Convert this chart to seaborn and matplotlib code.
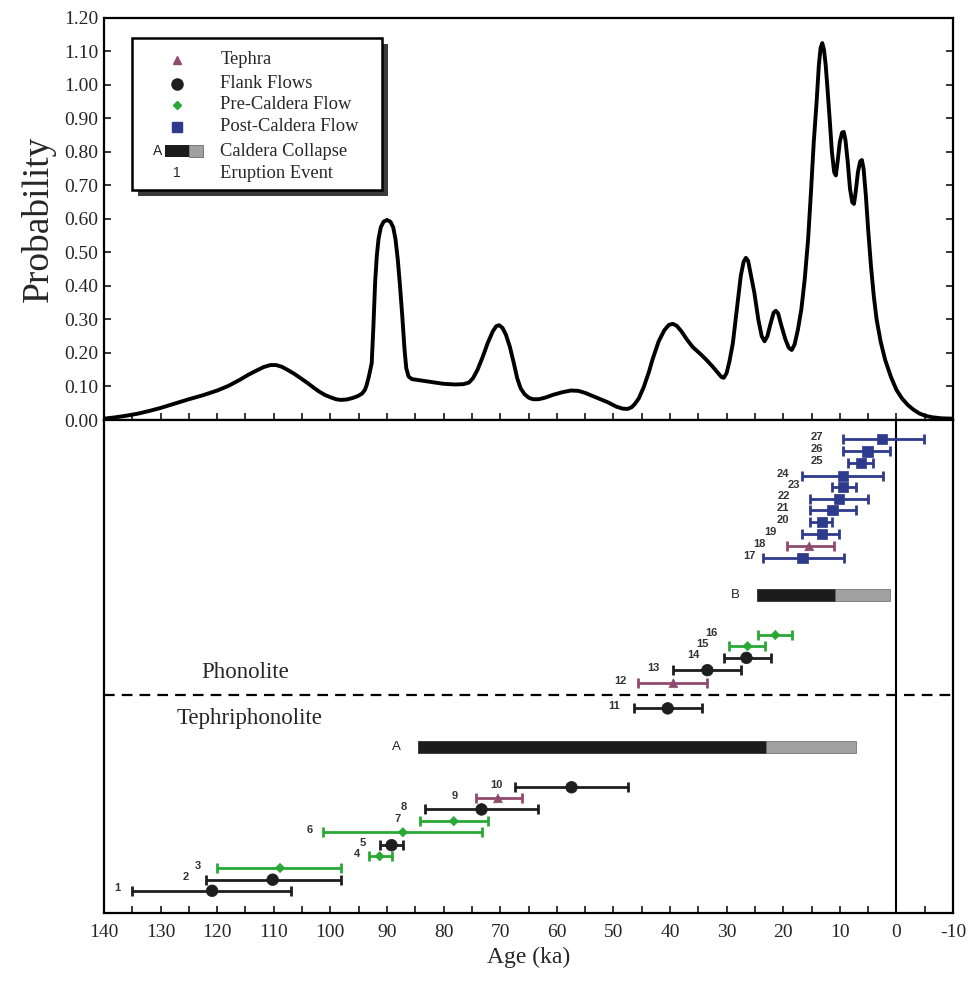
import numpy as np
import pandas as pd
import matplotlib.pyplot as plt
import seaborn as sns
from matplotlib.patches import Rectangle
from matplotlib.ticker import MultipleLocator, FormatStrFormatter

sns.set_theme(style='white')
plt.rcParams['font.family'] = ['Liberation Serif', 'DejaVu Serif']
plt.rcParams['axes.unicode_minus'] = False

# probability curve (age ka, probability)
curve_age = [140, 138, 136, 134, 132, 130, 127.5, 125, 122.5, 120, 118, 116, 114.5, 113,
             111.8, 110.6, 109.6, 108.6, 107.5, 106.3, 105.2, 104, 103, 102, 101, 100, 99,
             98.2, 97.2, 96.2, 95.2, 94.4, 93.9, 93.6, 93.2, 92.7, 92.4, 92.1, 91.8, 91.5,
             91.1, 90.6, 90.0, 89.4, 88.9, 88.5, 88.1, 87.7, 87.3, 86.9, 86.6, 86.2, 85.6,
             84, 82, 80, 78, 76.5, 75.5, 74.8, 74, 73.1, 72.2, 71.3, 70.7, 70.2, 69.6,
             69.0, 68.3, 67.6, 67.0, 66.4, 65.7, 64.9, 64.2, 63.2, 62, 60.7, 59, 57.5,
             56.2, 55, 53, 51, 49.5, 48.4, 47.5, 46.8, 46.2, 45.5, 44.6, 43.7, 43.1, 42.0,
             41, 40.2, 39.5, 38.8, 38.0, 37, 36, 34.5, 33.6, 32.5, 31.5, 30.9, 30.5, 30.0,
             29.5, 28.9, 28.2, 27.5, 27.0, 26.6, 26.2, 25.8, 25.1, 24.4, 23.8, 23.3, 22.8,
             22.2, 21.7, 21.3, 20.9, 20.3, 19.6, 19.0, 18.5, 18.0, 17.4, 16.8, 16.2, 15.6,
             15.1, 14.6, 14.1, 13.7, 13.4, 13.1, 12.8, 12.5, 12.2, 11.8, 11.4, 11.0, 10.7,
             10.4, 10.0, 9.6, 9.3, 9.0, 8.6, 8.2, 7.8, 7.5, 7.2, 6.8, 6.4, 6.1, 5.8, 5.4,
             5.0, 4.5, 4.0, 3.5, 2.8, 2.0, 1.0, 0, -1, -2, -3, -4, -5, -6.4, -8, -10]
curve_prob = [0.004, 0.008, 0.013, 0.019, 0.027, 0.036, 0.049, 0.062, 0.074, 0.088, 0.102, 0.120,
              0.135, 0.148, 0.158, 0.164, 0.164, 0.159, 0.149, 0.137, 0.124, 0.110, 0.097,
              0.085, 0.075, 0.068, 0.062, 0.060, 0.061, 0.065, 0.071, 0.079, 0.090, 0.104,
              0.130, 0.170, 0.280, 0.410, 0.490, 0.540, 0.575, 0.592, 0.597, 0.592, 0.575,
              0.540, 0.480, 0.400, 0.310, 0.210, 0.155, 0.130, 0.122, 0.118, 0.113, 0.108,
              0.106, 0.107, 0.112, 0.125, 0.150, 0.188, 0.230, 0.265, 0.280, 0.283, 0.275,
              0.255, 0.219, 0.170, 0.125, 0.095, 0.077, 0.066, 0.062, 0.062, 0.067, 0.075,
              0.083, 0.088, 0.087, 0.081, 0.067, 0.053, 0.040, 0.034, 0.033, 0.038, 0.048,
              0.065, 0.100, 0.145, 0.180, 0.235, 0.268, 0.284, 0.287, 0.281, 0.265, 0.240,
              0.218, 0.195, 0.180, 0.160, 0.140, 0.128, 0.126, 0.140, 0.175, 0.229, 0.330,
              0.430, 0.472, 0.484, 0.475, 0.440, 0.380, 0.300, 0.250, 0.235, 0.250, 0.290,
              0.320, 0.326, 0.318, 0.280, 0.240, 0.215, 0.209, 0.225, 0.270, 0.330, 0.420,
              0.540, 0.680, 0.830, 0.950, 1.060, 1.110, 1.125, 1.105, 1.060, 0.994, 0.900,
              0.800, 0.740, 0.730, 0.770, 0.830, 0.858, 0.860, 0.835, 0.770, 0.690, 0.650,
              0.645, 0.680, 0.740, 0.772, 0.776, 0.750, 0.670, 0.570, 0.460, 0.370, 0.300,
              0.235, 0.180, 0.130, 0.090, 0.064, 0.045, 0.031, 0.020, 0.013, 0.008, 0.005,
              0.004]

# eruption events
event_id = list(range(1, 28))
event_type = ['Flank Flows', 'Flank Flows', 'Pre-Caldera Flow', 'Pre-Caldera Flow', 'Flank Flows',
              'Pre-Caldera Flow', 'Pre-Caldera Flow', 'Flank Flows', 'Tephra', 'Flank Flows',
              'Flank Flows', 'Tephra', 'Flank Flows', 'Flank Flows', 'Pre-Caldera Flow',
              'Pre-Caldera Flow', 'Post-Caldera Flow', 'Tephra', 'Post-Caldera Flow',
              'Post-Caldera Flow', 'Post-Caldera Flow', 'Post-Caldera Flow', 'Post-Caldera Flow',
              'Post-Caldera Flow', 'Post-Caldera Flow', 'Post-Caldera Flow', 'Post-Caldera Flow']
event_age = [120.9, 110.2, 108.9, 91.3, 89.2, 87.2, 78.2, 73.3, 70.4, 57.4,
             40.4, 39.4, 33.4, 26.5, 26.3, 21.4, 16.6, 15.4, 13.2, 13.2,
             11.3, 10.2, 9.4, 9.4, 6.2, 5.1, 2.5]
event_old = [135.1, 122.0, 120.1, 93.2, 91.3, 101.3, 84.2, 83.3, 74.3, 67.3,
             46.4, 45.6, 39.5, 30.5, 29.5, 24.5, 23.5, 19.4, 16.6, 15.2,
             15.2, 15.2, 11.3, 16.6, 8.5, 9.4, 9.4]
event_young = [107.0, 98.2, 98.2, 89.2, 87.2, 73.3, 72.2, 63.4, 66.2, 47.5,
               34.3, 33.4, 27.4, 22.2, 23.3, 18.4, 9.2, 11.1, 10.2, 11.3,
               7.2, 5.1, 7.2, 2.3, 4.1, 1.1, -4.8]
event_row = [1.8, 2.7, 3.65, 4.6, 5.5, 6.55, 7.45, 8.4, 9.3, 10.2,
             16.6, 18.65, 19.7, 20.7, 21.65, 22.55, 28.8, 29.75, 30.75, 31.7,
             32.7, 33.6, 34.55, 35.45, 36.5, 37.45, 38.45]
label_age = [137.7, 125.5, 123.4, 95.3, 94.3, 103.6, 88.1, 87.0, 78.0, 70.6,
             49.8, 48.7, 42.9, 35.8, 34.3, 32.7, 26.0, 24.2, 22.2, 20.1,
             20.1, 19.8, 18.2, 20.1, 14.1, 14.1, 14.1]

# caldera collapses
caldera_name = ['A', 'B']
caldera_old = [84.6, 24.7]
caldera_split = [23.0, 10.9]
caldera_young = [7.1, 1.1]
caldera_row = [13.45, 25.8]

type_order = ['Tephra', 'Flank Flows', 'Pre-Caldera Flow', 'Post-Caldera Flow']
colors = {'Tephra': '#8f4b6e', 'Flank Flows': '#1e1e1e',
          'Pre-Caldera Flow': '#2aa836', 'Post-Caldera Flow': '#2e3a8c'}
markers = {'Tephra': '^', 'Flank Flows': 'o', 'Pre-Caldera Flow': 'D', 'Post-Caldera Flow': 's'}
sizes = {'Tephra': 40, 'Flank Flows': 70, 'Pre-Caldera Flow': 22, 'Post-Caldera Flow': 55}

events = pd.DataFrame({'id': event_id, 'type': event_type, 'age': event_age,
                       'old': event_old, 'young': event_young, 'row': event_row,
                       'label_age': label_age})

fig = plt.figure(figsize=(9.7, 9.82), dpi=100)
ax1 = fig.add_axes([0.1072, 0.5723, 0.8753, 0.4094])
ax2 = fig.add_axes([0.1072, 0.0703, 0.8753, 0.5020])

# ---- top panel: probability curve
sns.lineplot(x=curve_age, y=curve_prob, ax=ax1, color='black', lw=2.8, sort=False)
ax1.lines[0].set_solid_joinstyle('round')
ax1.set_xlim(140, -10)
ax1.set_ylim(0, 1.2)
ax1.yaxis.set_major_locator(MultipleLocator(0.1))
ax1.yaxis.set_major_formatter(FormatStrFormatter('%.2f'))
ax1.xaxis.set_major_locator(MultipleLocator(5))
ax1.tick_params(axis='x', bottom=True, direction='in', length=5, width=1.3, labelbottom=False)
ax1.tick_params(axis='y', left=True, direction='out', length=4, width=1.3,
                labelsize=14, pad=4)
ax1.tick_params(axis='y', right=True, direction='in', length=5, width=1.3)
ax1.set_ylabel('Probability', fontsize=27, labelpad=6)
ax1.set_xlabel('')

# hand-made legend box with drop shadow
x0, y0, w, h = 0.033, 0.572, 0.294, 0.378
ax1.add_patch(Rectangle((x0 + 0.007, y0 - 0.015), w, h, transform=ax1.transAxes,
                        facecolor='#3a3a3a', edgecolor='none', zorder=4))
ax1.add_patch(Rectangle((x0, y0), w, h, transform=ax1.transAxes,
                        facecolor='white', edgecolor='black', lw=1.8, zorder=5))
leg_rows = [0.896, 0.836, 0.784, 0.729, 0.669, 0.614]
leg_ms = {'Tephra': 6, 'Flank Flows': 8, 'Pre-Caldera Flow': 4.5, 'Post-Caldera Flow': 6.5}
for t, yy in zip(type_order, leg_rows):
    ax1.plot([0.086], [yy], marker=markers[t], color=colors[t], ms=leg_ms[t],
             transform=ax1.transAxes, zorder=6, ls='none')
    ax1.text(0.137, yy, t, transform=ax1.transAxes, fontsize=13.3, va='center', zorder=6)
ax1.text(0.063, leg_rows[4], 'A', transform=ax1.transAxes, fontsize=10, ha='center',
         va='center', family='Liberation Sans', zorder=6)
ax1.add_patch(Rectangle((0.072, leg_rows[4] - 0.015), 0.028, 0.030, transform=ax1.transAxes,
                        facecolor='#1c1c1c', edgecolor='none', zorder=6))
ax1.add_patch(Rectangle((0.100, leg_rows[4] - 0.015), 0.017, 0.030, transform=ax1.transAxes,
                        facecolor='#a0a0a0', edgecolor='#555555', lw=0.5, zorder=6))
ax1.text(0.137, leg_rows[4], 'Caldera Collapse', transform=ax1.transAxes, fontsize=13.3,
         va='center', zorder=6)
ax1.text(0.086, leg_rows[5], '1', transform=ax1.transAxes, fontsize=10, ha='center',
         va='center', family='Liberation Sans', zorder=6)
ax1.text(0.137, leg_rows[5], 'Eruption Event', transform=ax1.transAxes, fontsize=13.3,
         va='center', zorder=6)

# ---- bottom panel: eruption events
ax2.set_xlim(140, -10)
ax2.set_ylim(0, 40)
ax2.set_yticks([])

for t in type_order:
    d = events[events['type'] == t]
    ax2.errorbar(d['age'], d['row'], xerr=[d['age'] - d['young'], d['old'] - d['age']],
                 fmt='none', ecolor=colors[t], elinewidth=2, capsize=3.5, capthick=2, zorder=2)
sns.scatterplot(data=events, x='age', y='row', hue='type', style='type', size='type',
                palette=colors, markers=markers, sizes=sizes, hue_order=type_order,
                ax=ax2, legend=False, edgecolor='face', linewidth=0.5, zorder=3)

for _, r in events.iterrows():
    ax2.text(r['label_age'], r['row'] + 0.2, str(r['id']), ha='center', va='center',
             fontsize=8, fontweight='bold', family='Liberation Sans', color='#333333')

for name, old, split, young, row in zip(caldera_name, caldera_old, caldera_split,
                                        caldera_young, caldera_row):
    ax2.barh(row, old - split, left=split, height=1.0, color='#1c1c1c', edgecolor='#1c1c1c',
             lw=0.5, zorder=2)
    ax2.barh(row, split - young, left=young, height=1.0, color='#a0a0a0', edgecolor='#666666',
             lw=0.5, zorder=2)
    ax2.text(old + 3.8, row, name, ha='center', va='center', fontsize=9.5,
             family='Liberation Sans', color='#222222')

ax2.axhline(17.7, color='black', lw=1.6, dashes=(4.8, 3.2), zorder=1)
ax2.axvline(0, color='black', lw=1.5, zorder=1)
ax2.text(115.1, 19.55, 'Phonolite', fontsize=16.5, ha='center', va='center')
ax2.text(114.2, 15.8, 'Tephriphonolite', fontsize=16.5, ha='center', va='center')

ax2.xaxis.set_major_locator(MultipleLocator(10))
ax2.xaxis.set_minor_locator(MultipleLocator(5))
ax2.tick_params(axis='x', which='both', bottom=True, direction='in', length=5, width=1.3,
                labelsize=14, pad=8)
ax2.set_xlabel('Age (ka)', fontsize=17, labelpad=4)
ax2.set_ylabel('')

for ax in (ax1, ax2):
    for s in ax.spines.values():
        s.set_color('black')
        s.set_linewidth(1.6)

fig.savefig('out.png', dpi=100)
